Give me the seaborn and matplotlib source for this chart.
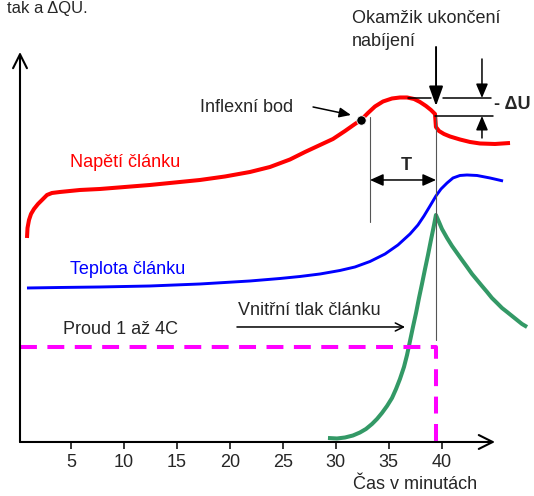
import seaborn as sns
import matplotlib.pyplot as plt
import pandas as pd

# hodnoty (x = cas v minutach, y = relativni jednotky)
napeti_x = [0.82, 0.87, 1.01, 1.20, 1.48, 1.86, 2.24, 2.71, 3.18, 3.94, 5.83, 7.72,
            10.08, 12.44, 14.81, 17.17, 19.53, 21.89, 23.78, 25.67, 27.09, 28.51,
            29.73, 30.87, 31.81, 32.38, 33.04, 33.70, 34.46, 35.31, 36.06, 36.73,
            37.39, 37.95, 38.52, 38.99, 39.37, 39.46, 39.75, 40.22, 40.79, 41.73,
            42.68, 43.62, 45.04, 46.46]
napeti_y = [20.4, 21.4, 22.2, 22.8, 23.3, 23.8, 24.2, 24.7, 24.9, 25.0, 25.2, 25.3,
            25.5, 25.7, 25.95, 26.2, 26.55, 27.0, 27.5, 28.25, 29.0, 29.7,
            30.3, 31.1, 31.8, 32.2, 32.9, 33.55, 34.05, 34.35, 34.45, 34.45,
            34.3, 34.0, 33.6, 33.2, 32.8, 31.5, 31.1, 30.8, 30.55, 30.25,
            30.0, 29.85, 29.8, 29.9]

teplota_x = [0.82, 3.94, 7.72, 12.44, 17.17, 21.89, 24.73, 26.62, 28.51, 30.39, 31.81,
             33.23, 34.65, 35.87, 37.01, 37.76, 38.33, 38.90, 39.46, 39.94, 40.51,
             41.07, 41.73, 42.39, 43.34, 44.57, 45.80]
teplota_y = [15.4, 15.45, 15.5, 15.6, 15.8, 16.1, 16.35, 16.55, 16.8, 17.15, 17.5,
             18.05, 18.8, 19.7, 20.8, 21.7, 22.6, 23.6, 24.6, 25.3, 25.9,
             26.4, 26.65, 26.7, 26.65, 26.4, 26.1]

tlak_x = [29.26, 30.11, 30.87, 31.62, 32.28, 32.85, 33.42, 33.89, 34.36, 34.84, 35.31,
          35.69, 36.06, 36.44, 36.73, 37.01, 37.29, 37.58, 37.86, 38.14, 38.43, 38.71,
          38.99, 39.28, 39.46, 39.75, 40.03, 40.51, 40.98, 41.45, 41.92, 42.40, 42.87,
          43.34, 43.81, 44.29, 44.75, 45.23, 45.70, 46.18, 46.65, 47.12, 47.59, 48.07]
tlak_y = [0.4, 0.35, 0.45, 0.65, 0.95, 1.3, 1.8, 2.3, 2.9, 3.6, 4.4,
          5.3, 6.3, 7.5, 8.7, 10.1, 11.5, 12.9, 14.4, 15.8, 17.3, 18.7,
          20.2, 21.7, 22.7, 22.0, 21.3, 20.4, 19.6, 18.9, 18.2, 17.5, 16.8,
          16.2, 15.6, 15.0, 14.4, 13.9, 13.4, 13.0, 12.6, 12.2, 11.8, 11.5]

proud_x = [0.16, 39.47, 39.47]
proud_y = [9.5, 9.5, 0.0]

inflexe_x = [32.38]
inflexe_y = [32.2]

konec_nabijeni = 39.47
zacatek_T = 33.23
minuty = [5, 10, 15, 20, 25, 30, 35, 40]

sns.set_style('white')
plt.rcParams['font.family'] = ['Liberation Sans', 'DejaVu Sans']
plt.rcParams['font.size'] = 13

fig = plt.figure(figsize=(5.34, 4.96), dpi=100)
ax = fig.add_axes([0.03745, 0.1089, 0.8895, 0.7863])

# krivky
krivka = dict(sort=False, estimator=None, clip_on=False, solid_capstyle='butt',
              solid_joinstyle='round', ax=ax)
sns.lineplot(x=napeti_x, y=napeti_y, color='#ff0000', lw=2.9, **krivka)
sns.lineplot(x=teplota_x, y=teplota_y, color='#0000ff', lw=2.1, **krivka)
sns.lineplot(x=tlak_x, y=tlak_y, color='#339966', lw=2.9, **krivka)
sns.lineplot(x=proud_x, y=proud_y, color='#ff00ff', lw=2.9, sort=False, estimator=None,
             clip_on=False, ax=ax)
ax.lines[-1].set_linestyle((0, (4.2, 2.6)))
sns.scatterplot(x=inflexe_x, y=inflexe_y, color='black', s=45, zorder=5, clip_on=False, ax=ax)

ax.set_xlim(0.16, 45.04)
ax.set_ylim(0, 39)
for s in ax.spines.values():
    s.set_visible(False)

# osy se sipkami
osa = dict(arrowstyle='->,head_length=1.0,head_width=0.5', lw=1.5, color='black',
           mutation_scale=10, shrinkA=0, shrinkB=0)
ax.annotate('', xy=(1, 0), xytext=(0, 0), xycoords='axes fraction', arrowprops=osa,
            annotation_clip=False)
ax.annotate('', xy=(0, 1), xytext=(0, 0), xycoords='axes fraction', arrowprops=osa,
            annotation_clip=False)

ax.set_xticks(minuty)
ax.set_xticklabels([str(m) for m in minuty])
ax.set_yticks([])
ax.tick_params(axis='x', bottom=True, direction='out', length=5, width=1.1,
               color='black', pad=4, labelsize=13)
ax.set_xlabel('')
ax.set_ylabel('')

# pomocne cary
ax.plot([zacatek_T, zacatek_T], [32.5, 22.0], color='#555555', lw=0.8, clip_on=False)
ax.plot([konec_nabijeni, konec_nabijeni], [32.7, 10.2], color='#555555', lw=0.8, clip_on=False)
ax.plot([36.82, 38.99], [34.4, 34.4], color='black', lw=1.1, clip_on=False)
ax.plot([40.13, 44.66], [34.4, 34.4], color='black', lw=1.1, clip_on=False)
ax.plot([39.37, 44.85], [32.6, 32.6], color='black', lw=1.1, clip_on=False)


def sipka(od, do, styl, lw=1.1):
    ax.annotate('', xy=do, xytext=od,
                arrowprops=dict(arrowstyle=styl, lw=lw, color='black', mutation_scale=10,
                                shrinkA=0, shrinkB=0),
                annotation_clip=False)


sipka((konec_nabijeni, 39.5), (konec_nabijeni, 33.6), '-|>,head_length=1.2,head_width=0.43', 1.4)
sipka((zacatek_T, 26.2), (konec_nabijeni, 26.2), '<|-|>,head_length=0.8,head_width=0.36')
sipka((43.81, 38.3), (43.81, 34.4), '-|>,head_length=0.85,head_width=0.36')
sipka((43.81, 30.4), (43.81, 32.6), '-|>,head_length=0.85,head_width=0.36')
sipka((27.85, 33.5), (31.43, 32.7), '-|>,head_length=0.7,head_width=0.3')
sipka((20.66, 11.5), (36.54, 11.5), '->,head_length=0.58,head_width=0.29')

# popisky
ax.text(31.51, 42.3, 'Okamžik ukončení', va='center', ha='left')
ax.text(31.51, 40.0, 'nabíjení', va='center', ha='left')
ax.text(17.17, 33.4, 'Inflexní bod', va='center', ha='left')
ax.text(36.63, 27.6, 'T', va='center', ha='center', fontweight='bold')
ax.text(44.94, 33.7, '- ΔU', va='center', ha='left', fontweight='bold')
ax.text(4.88, 27.9, 'Napětí článku', va='center', ha='left', color='#ff0000')
ax.text(4.88, 17.2, 'Teplota článku', va='center', ha='left', color='#0000ff')
ax.text(4.22, 11.2, 'Proud 1 až 4C', va='center', ha='left')
ax.text(20.76, 13.1, 'Vnitřní tlak článku', va='center', ha='left')
ax.text(31.62, -4.3, 'Čas v minutách', va='center', ha='left')
ax.text(-1.07, 42.9, 'tak a ΔQU.', va='baseline', ha='left', fontsize=12)

fig.savefig('out.png', dpi=100)
